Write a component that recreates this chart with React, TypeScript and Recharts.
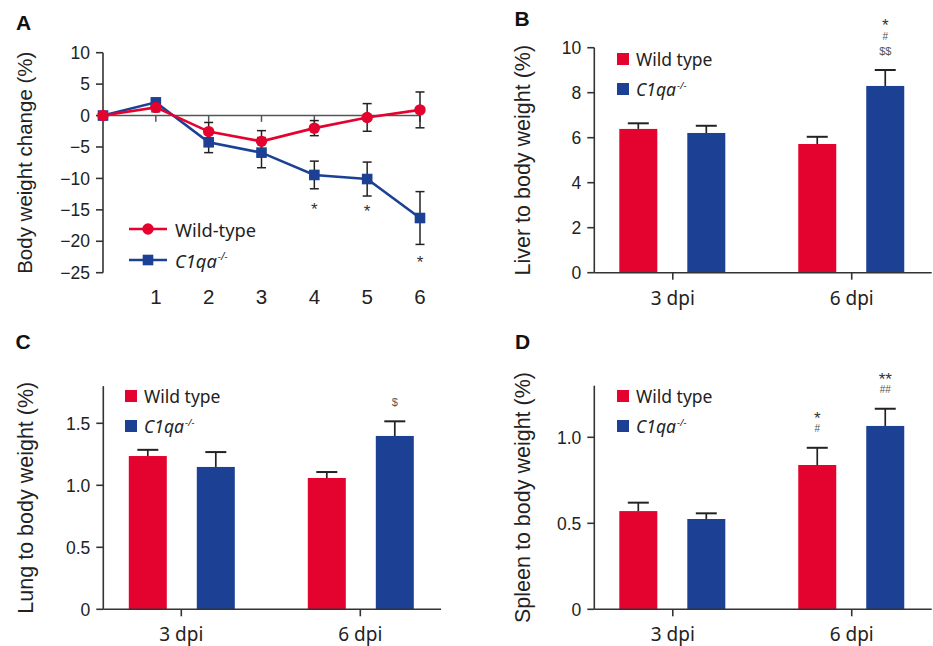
import React from "react";
import {
  Bar,
  BarChart,
  ErrorBar,
  Legend,
  Line,
  LineChart,
  ReferenceDot,
  ReferenceLine,
  XAxis,
  YAxis,
} from "recharts";

const RED = "#e4032e";
const BLUE = "#1b4094";
const INK = "#222";
const AXIS = "#333";
const ARIAL = "'Liberation Sans', Arial, sans-serif";
const NOTO = "'Noto Sans', sans-serif";

// A: body weight change (%) by day
const DAYS = [0, 1, 2, 3, 4, 5, 6];
const DAY_TICKS = [1, 2, 3, 4, 5, 6];
const WT_CHANGE = [0, 1.3, -2.55, -4.1, -2.0, -0.3, 0.9];
const WT_CHANGE_ERR = [0, 0.7, 1.45, 1.7, 1.2, 2.2, 2.85];
const KO_CHANGE = [0, 2.1, -4.25, -5.9, -9.45, -10.1, -16.3];
const KO_CHANGE_ERR = [0, 0.5, 1.65, 2.4, 2.2, 2.7, 4.2];
const WEIGHT_TICKS = [10, 5, 0, -5, -10, -15, -20, -25];
const STAR_DAYS = [4, 5, 6];
const STAR_LEVEL = [-14.8, -15.2, -23.3];

// B-D: organ to body weight (%)
const DPI = ["3 dpi", "6 dpi"];
const LIVER_WT = [6.39, 5.72];
const LIVER_WT_ERR = [0.25, 0.32];
const LIVER_KO = [6.21, 8.3];
const LIVER_KO_ERR = [0.32, 0.71];
const LIVER_WT_MARKS = [[], []];
const LIVER_KO_MARKS = [[], ["$$", "#", "*"]];

const LUNG_WT = [1.236, 1.059];
const LUNG_WT_ERR = [0.05, 0.048];
const LUNG_KO = [1.148, 1.398];
const LUNG_KO_ERR = [0.12, 0.118];
const LUNG_WT_MARKS = [[], []];
const LUNG_KO_MARKS = [[], ["$"]];

const SPLEEN_WT = [0.571, 0.839];
const SPLEEN_WT_ERR = [0.049, 0.1];
const SPLEEN_KO = [0.525, 1.066];
const SPLEEN_KO_ERR = [0.033, 0.1];
const SPLEEN_WT_MARKS = [[], ["#", "*"]];
const SPLEEN_KO_MARKS = [[], ["##", "**"]];

const weightData = DAYS.map((day, i) => ({
  day,
  wt: WT_CHANGE[i],
  wtErr: WT_CHANGE_ERR[i],
  ko: KO_CHANGE[i],
  koErr: KO_CHANGE_ERR[i],
}));

function organRows(
  wt: number[],
  wtErr: number[],
  ko: number[],
  koErr: number[],
  wtMarks: string[][],
  koMarks: string[][]
) {
  return DPI.map((dpi, i) => ({
    dpi,
    wt: wt[i],
    wtErr: wtErr[i],
    ko: ko[i],
    koErr: koErr[i],
    wtMarks: wtMarks[i],
    koMarks: koMarks[i],
  }));
}

const liverRows = organRows(LIVER_WT, LIVER_WT_ERR, LIVER_KO, LIVER_KO_ERR, LIVER_WT_MARKS, LIVER_KO_MARKS);
const lungRows = organRows(LUNG_WT, LUNG_WT_ERR, LUNG_KO, LUNG_KO_ERR, LUNG_WT_MARKS, LUNG_KO_MARKS);
const spleenRows = organRows(SPLEEN_WT, SPLEEN_WT_ERR, SPLEEN_KO, SPLEEN_KO_ERR, SPLEEN_WT_MARKS, SPLEEN_KO_MARKS);

const minus = (v: number) => String(v).replace("-", "\u2212");

// bar + one-sided (upper) error bar + significance marks
function barWithError(valueKey: string, errKey: string, marksKey: string) {
  return (props: any) => {
    const { x, y, width, height, fill, payload } = props;
    const value = payload[valueKey];
    const perUnit = value ? height / value : 0;
    const top = y - payload[errKey] * perUnit;
    const mid = x + width / 2;
    const marks: string[] = payload[marksKey] || [];
    return (
      <g>
        <rect x={x} y={y} width={width} height={height} fill={fill} />
        <line x1={mid} x2={mid} y1={y} y2={top} stroke={INK} strokeWidth={1.7} />
        <line x1={mid - 10.5} x2={mid + 10.5} y1={top} y2={top} stroke={INK} strokeWidth={2} />
        {marks.map((m, i) => {
          const star = m.includes("*");
          const fs = star ? 17 : m.includes("$") ? 11 : 10;
          const cy = top - 19 - i * 15;
          return (
            <text
              key={i}
              x={mid}
              y={cy + (star ? 0.58 : 0.36) * fs}
              textAnchor="middle"
              fontFamily={ARIAL}
              fontSize={fs}
              fill={star ? "#333" : "#555"}
            >
              {m}
            </text>
          );
        })}
      </g>
    );
  };
}

function KoName({ size }: { size: number }) {
  return (
    <span style={{ fontStyle: "italic" }}>
      C1qa
      <span style={{ fontSize: size * 0.55, position: "relative", top: -size * 0.42, marginLeft: 1 }}>
        {"\u2212/\u2212"}
      </span>
    </span>
  );
}

function LineKey() {
  const row = { display: "flex", alignItems: "center", height: 31 } as const;
  return (
    <div style={{ fontFamily: NOTO, fontSize: 18.3, color: INK, whiteSpace: "nowrap" }}>
      <div style={row}>
        <svg width={38} height={14} style={{ marginRight: 8 }}>
          <line x1={0} x2={38} y1={7} y2={7} stroke={RED} strokeWidth={2.6} />
          <circle cx={19} cy={7} r={5.7} fill={RED} />
        </svg>
        <span>Wild-type</span>
      </div>
      <div style={row}>
        <svg width={38} height={14} style={{ marginRight: 8 }}>
          <line x1={0} x2={38} y1={7} y2={7} stroke={BLUE} strokeWidth={2.6} />
          <rect x={13.7} y={1.7} width={10.6} height={10.6} fill={BLUE} />
        </svg>
        <KoName size={18.3} />
      </div>
    </div>
  );
}

function BarKey() {
  const row = { display: "flex", alignItems: "center", height: 30 } as const;
  const swatch = { width: 12, height: 12, marginRight: 7, display: "inline-block" };
  return (
    <div style={{ fontFamily: NOTO, fontSize: 17.5, color: INK, whiteSpace: "nowrap" }}>
      <div style={row}>
        <span style={{ ...swatch, background: RED }} />
        <span>Wild type</span>
      </div>
      <div style={row}>
        <span style={{ ...swatch, background: BLUE }} />
        <KoName size={17.5} />
      </div>
    </div>
  );
}

const yTick = { fontFamily: ARIAL, fontSize: 17.5, fill: INK };
const axisStroke = { stroke: AXIS, strokeWidth: 1.6 };

function OrganPanel({
  rows,
  left,
  top,
  width,
  height,
  plotTop,
  axisWidth,
  rightGap,
  xAxisHeight,
  xPad,
  yMax,
  ticks,
  fmt,
  title,
  titleDx,
  legendLeft,
  legendTop,
  labelGap,
}: {
  rows: any[];
  left: number;
  top: number;
  width: number;
  height: number;
  plotTop: number;
  axisWidth: number;
  rightGap: number;
  xAxisHeight: number;
  xPad: { left: number; right: number };
  yMax: number;
  ticks: number[];
  fmt: (v: number) => string;
  title: string;
  titleDx: number;
  legendLeft: number;
  legendTop: number;
  labelGap: number;
}) {
  return (
    <div style={{ position: "absolute", left, top }}>
      <BarChart
        width={width}
        height={height}
        data={rows}
        margin={{ top: plotTop, right: rightGap, bottom: 0, left: 0 }}
        barSize={38}
        barGap={30}
      >
        <XAxis
          dataKey="dpi"
          height={xAxisHeight}
          padding={xPad}
          axisLine={axisStroke}
          tickLine={axisStroke}
          tickSize={7}
          tickMargin={labelGap}
          tick={{ fontFamily: NOTO, fontSize: 19, fill: INK }}
        />
        <YAxis
          type="number"
          domain={[0, yMax]}
          ticks={ticks}
          width={axisWidth}
          axisLine={axisStroke}
          tickLine={axisStroke}
          tickSize={7}
          tickMargin={6}
          tick={yTick}
          tickFormatter={fmt}
          label={{
            value: title,
            angle: -90,
            position: "center",
            dx: titleDx,
            fontFamily: ARIAL,
            fontSize: 21.5,
            fill: INK,
          }}
        />
        <Legend
          layout="vertical"
          verticalAlign="middle"
          align="center"
          content={() => <BarKey />}
          wrapperStyle={{ left: legendLeft, top: legendTop, width: "auto" }}
        />
        <Bar dataKey="wt" fill={RED} isAnimationActive={false} shape={barWithError("wt", "wtErr", "wtMarks")} />
        <Bar dataKey="ko" fill={BLUE} isAnimationActive={false} shape={barWithError("ko", "koErr", "koMarks")} />
      </BarChart>
    </div>
  );
}

const panelLetter = {
  position: "absolute",
  fontFamily: ARIAL,
  fontWeight: 700,
  fontSize: 21,
  lineHeight: "21px",
  color: "#111",
} as const;

export default function App() {
  return (
    <div
      style={{
        position: "absolute",
        left: 0,
        top: 0,
        width: 933,
        height: 646,
        background: "#fff",
        overflow: "hidden",
      }}
    >
      <div style={{ ...panelLetter, left: 16, top: 12.2 }}>A</div>
      <div style={{ ...panelLetter, left: 514.5, top: 7.5 }}>B</div>
      <div style={{ ...panelLetter, left: 15.5, top: 330.5 }}>C</div>
      <div style={{ ...panelLetter, left: 515, top: 330.5 }}>D</div>

      <div style={{ position: "absolute", left: 0, top: 0 }}>
        <LineChart
          width={470}
          height={320}
          data={weightData}
          margin={{ top: 52.7, right: 50, bottom: 0, left: 0 }}
        >
          <XAxis
            dataKey="day"
            type="number"
            domain={[0, 6]}
            ticks={DAY_TICKS}
            axisLine={false}
            tickLine={false}
            tickSize={7}
            tickMargin={10}
            height={47.3}
            tick={{ fontFamily: ARIAL, fontSize: 20.5, fill: INK }}
          />
          <YAxis
            type="number"
            domain={[-25, 10]}
            ticks={WEIGHT_TICKS}
            width={103}
            axisLine={axisStroke}
            tickLine={axisStroke}
            tickSize={7}
            tickMargin={6}
            tick={yTick}
            tickFormatter={minus}
            label={{
              value: "Body weight change (%)",
              angle: -90,
              position: "center",
              dx: -26.5,
              fontFamily: ARIAL,
              fontSize: 20.5,
              fill: INK,
            }}
          />
          <ReferenceLine y={0} stroke="#555" strokeWidth={1.5} />
          {DAY_TICKS.map((d) => (
            <ReferenceLine
              key={d}
              segment={[
                { x: d, y: 0 },
                { x: d, y: -1 },
              ]}
              stroke="#555"
              strokeWidth={1.5}
            />
          ))}
          <Line
            type="linear"
            dataKey="ko"
            stroke={BLUE}
            strokeWidth={2.6}
            isAnimationActive={false}
            activeDot={false}
            dot={(p: any) => (
              <rect key={`ko-${p.index}`} x={p.cx - 5.3} y={p.cy - 5.3} width={10.6} height={10.6} fill={BLUE} />
            )}
          >
            <ErrorBar dataKey="koErr" width={4.5} stroke={INK} strokeWidth={1.5} direction="y" />
          </Line>
          <Line
            type="linear"
            dataKey="wt"
            stroke={RED}
            strokeWidth={2.6}
            isAnimationActive={false}
            activeDot={false}
            dot={{ r: 5.7, fill: RED, stroke: RED, strokeWidth: 0 }}
          >
            <ErrorBar dataKey="wtErr" width={4.5} stroke={INK} strokeWidth={1.5} direction="y" />
          </Line>
          {STAR_DAYS.map((d, i) => (
            <ReferenceDot
              key={d}
              x={d}
              y={STAR_LEVEL[i]}
              r={0}
              fill="none"
              stroke="none"
              label={{ value: "*", position: "center", fontFamily: ARIAL, fontSize: 17, fill: "#333" }}
            />
          ))}
          <Legend
            layout="vertical"
            verticalAlign="middle"
            align="center"
            content={() => <LineKey />}
            wrapperStyle={{ left: 129, top: 213.8, width: "auto" }}
          />
        </LineChart>
      </div>

      <OrganPanel
        rows={liverRows}
        left={470}
        top={0}
        width={463}
        height={320}
        plotTop={47.7}
        axisWidth={124.3}
        rightGap={1.3}
        xAxisHeight={47.3}
        xPad={{ left: -11, right: -9.5 }}
        yMax={10}
        ticks={[0, 2, 4, 6, 8, 10]}
        fmt={(v) => String(v)}
        title="Liver to body weight (%)"
        titleDx={-10}
        legendLeft={147}
        legendTop={44}
        labelGap={12}
      />
      <OrganPanel
        rows={lungRows}
        left={0}
        top={320}
        width={470}
        height={326}
        plotTop={66.1}
        axisWidth={103.3}
        rightGap={29}
        xAxisHeight={36.7}
        xPad={{ left: -11.5, right: -8.8 }}
        yMax={1.8}
        ticks={[0, 0.5, 1, 1.5]}
        fmt={(v) => (v === 0 ? "0" : v.toFixed(1))}
        title="Lung to body weight (%)"
        titleDx={-26.6}
        legendLeft={125}
        legendTop={61}
        labelGap={11}
      />
      <OrganPanel
        rows={spleenRows}
        left={470}
        top={320}
        width={463}
        height={326}
        plotTop={65.7}
        axisWidth={124.3}
        rightGap={1.3}
        xAxisHeight={36.7}
        xPad={{ left: -11, right: -9.5 }}
        yMax={1.3}
        ticks={[0, 0.5, 1]}
        fmt={(v) => (v === 0 ? "0" : v.toFixed(1))}
        title="Spleen to body weight (%)"
        titleDx={-10}
        legendLeft={147}
        legendTop={61}
        labelGap={11}
      />
    </div>
  );
}
